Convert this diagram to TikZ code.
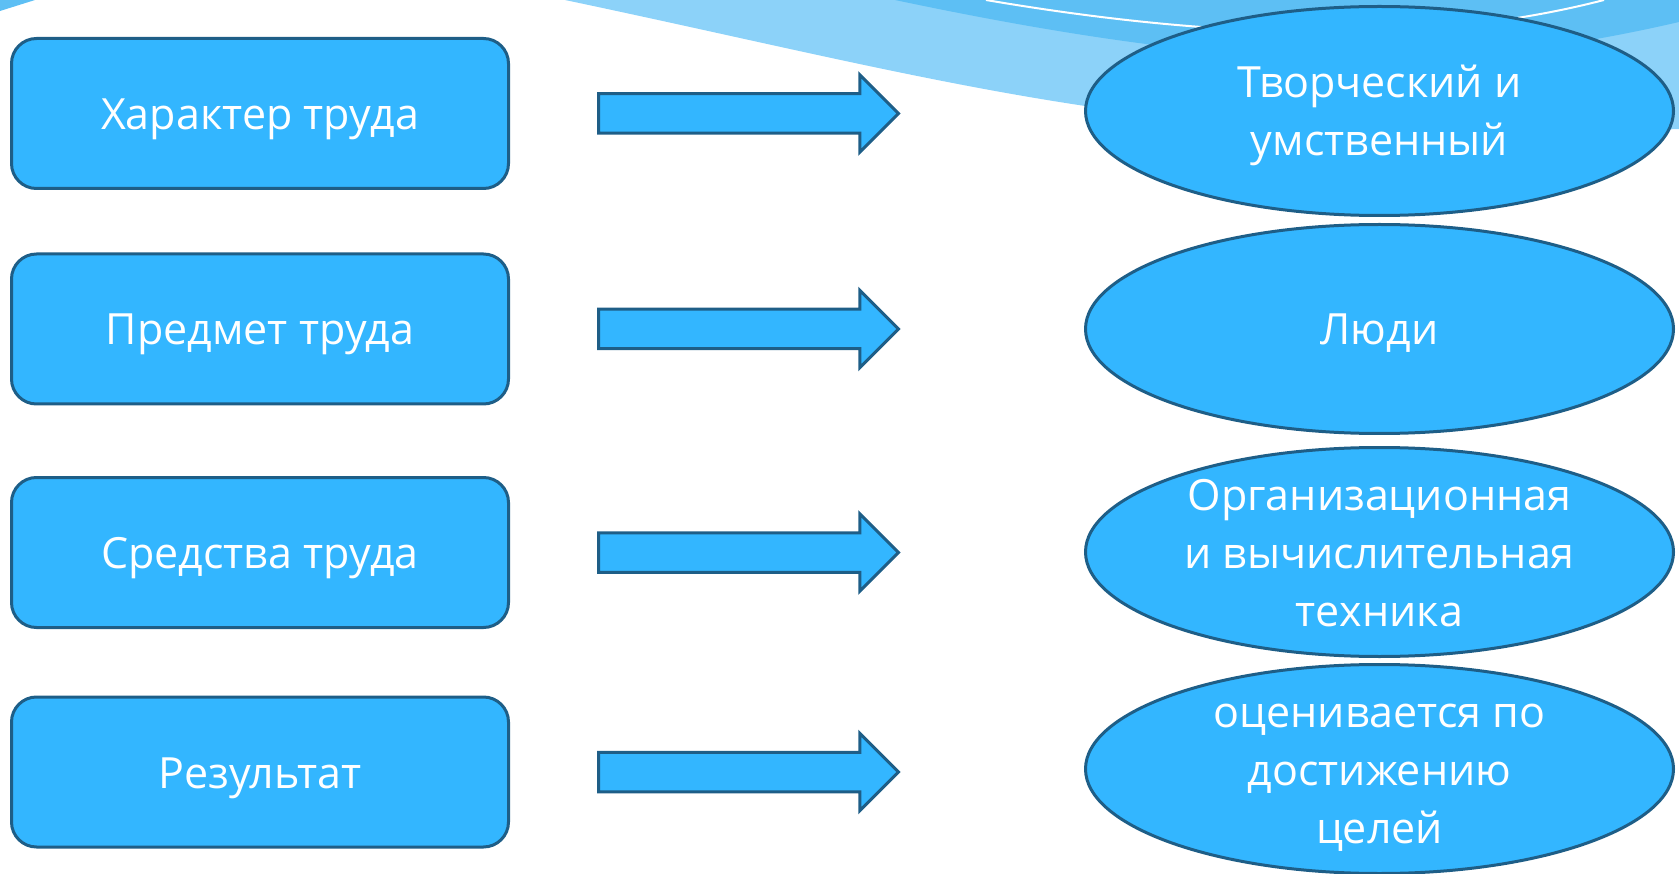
\documentclass[tikz,border=0pt]{standalone}
\usepackage{fontspec}
\setmainfont{Open Sans}
\usetikzlibrary{shapes.geometric, shapes.arrows, positioning}
\definecolor{boxblue}{RGB}{51,182,255}
\definecolor{edgeblue}{RGB}{30,94,135}
\definecolor{waveblue}{RGB}{140,210,249}
\definecolor{wavemid}{RGB}{93,191,244}
\newcommand{\ls}{\rule[-13pt]{0pt}{58pt}}

\begin{document}
\begin{tikzpicture}[
    x=1pt, y=-1pt,
    box/.style={rectangle, rounded corners=25pt, draw=edgeblue, fill=boxblue, line width=3pt, minimum width=497pt, minimum height=150pt, inner ysep=0pt, align=center, text=white, font=\fontsize{43}{58}\selectfont, execute at begin node=\ls},
    oval/.style={ellipse, draw=edgeblue, fill=boxblue, line width=3pt, minimum width=588pt, minimum height=209pt, inner xsep=4pt, inner ysep=-30pt, align=center, text=white, font=\fontsize{43}{58}\selectfont},
    bigarrow/.style={single arrow, draw=edgeblue, fill=boxblue, line width=3pt, minimum height=300pt, inner xsep=0pt, inner ysep=18.25pt, single arrow head extend=19pt}
]
\useasboundingbox (0,0) rectangle (1679,874);

% Background wave
\begin{scope}
\clip (0,0) rectangle (1679,874);
\fill[waveblue] (565,0) .. controls (850,60) and (1050,115) .. (1300,128)
    .. controls (1500,134) and (1600,132) .. (1679,129) -- (1679,0) -- cycle;
\fill[wavemid] (895,0) .. controls (1250,75) and (1450,75) .. (1679,22) -- (1679,0) -- cycle;
\draw[white, line width=2pt] (986,0) .. controls (1250,45) and (1450,40) .. (1604,0);
\fill[wavemid] (0,0) -- (35,0) -- (0,11) -- cycle;
\end{scope}

% Left column
\node[box] (nature) at (260,113.5) {Характер труда};
\node[box] (subject) at (260,329) {Предмет труда};
\node[box] (means) at (260,552.5) {Средства труда};
\node[box] (result) at (260,772) {Результат};

% Arrows
\node[bigarrow, right=87pt of nature] (a1) {};
\node[bigarrow, right=87pt of subject] (a2) {};
\node[bigarrow, right=87pt of means] (a3) {};
\node[bigarrow, right=87pt of result] (a4) {};

% Right column
\node[oval] (creative) at (1379.5,111) {\ls Творческий и\\\ls умственный};
\node[oval] (people) at (1379.5,329) {\ls Люди};
\node[oval] (tech) at (1379.5,552) {\ls Организационная\\\ls и вычислительная\\\ls техника};
\node[oval] (goals) at (1379.5,769) {\ls оценивается по\\\ls достижению\\\ls целей};

\end{tikzpicture}
\end{document}
